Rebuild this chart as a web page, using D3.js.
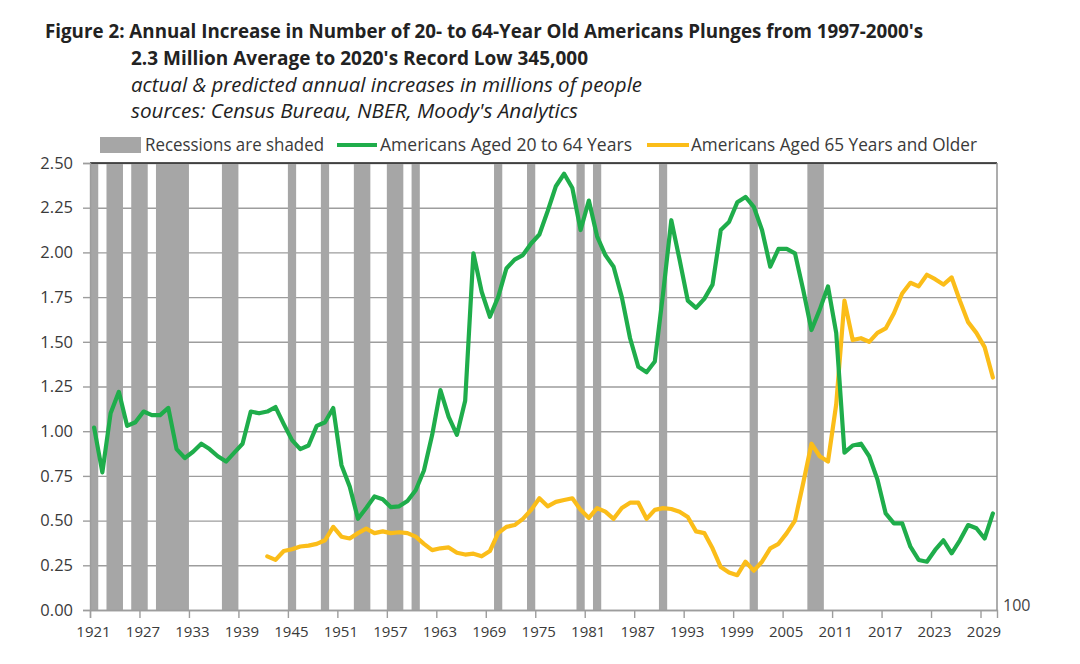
<!DOCTYPE html>
<html>
<head>
<meta charset="utf-8">
<script src="https://cdn.jsdelivr.net/npm/d3@7/dist/d3.min.js"></script>
<style>
  html, body { margin: 0; padding: 0; background: #fff; }
  svg { display: block; }
</style>
</head>
<body>
<svg id="chart" width="1080" height="664"></svg>
<script>
// ---------------- DATA ----------------
const titleLines = [
  "Figure 2: Annual Increase in Number of 20- to 64-Year Old Americans Plunges from 1997-2000's",
  "2.3 Million Average to 2020's  Record Low 345,000"
];
const subtitleLines = [
  "actual & predicted annual increases in millions of people",
  "sources: Census Bureau, NBER, Moody's Analytics"
];
const legendLabels = ["Recessions are shaded", "Americans Aged 20 to 64 Years", "Americans Aged 65 Years and Older"];

// Recession years (shaded)
const recessionYears = [1921, 1923, 1924, 1926, 1927, 1929, 1930, 1931, 1932, 1937, 1938, 1945, 1949,
  1953, 1954, 1957, 1958, 1960, 1970, 1974, 1980, 1982, 1990, 2001, 2008, 2009];

// Americans aged 20 to 64: annual increase (millions), 1921-2030
const years2064 = d3.range(1921, 2031);
const values2064 = [
  1.02, 0.77, 1.10, 1.22, 1.03, 1.05, 1.11, 1.09, 1.09, 1.13,   // 1921-1930
  0.90, 0.85, 0.885, 0.93, 0.90, 0.86, 0.83, 0.88, 0.93, 1.11,  // 1931-1940
  1.10, 1.11, 1.135, 1.04, 0.95, 0.90, 0.92, 1.03, 1.05, 1.13,  // 1941-1950
  0.81, 0.69, 0.51, 0.57, 0.635, 0.62, 0.575, 0.58, 0.61, 0.67, // 1951-1960
  0.78, 0.98, 1.23, 1.08, 0.98, 1.17, 1.995, 1.78, 1.64, 1.75,  // 1961-1970
  1.91, 1.96, 1.985, 2.05, 2.10, 2.23, 2.37, 2.44, 2.36, 2.125, // 1971-1980
  2.29, 2.09, 1.985, 1.92, 1.75, 1.52, 1.36, 1.33, 1.39, 1.77,  // 1981-1990
  2.18, 1.96, 1.73, 1.69, 1.74, 1.82, 2.125, 2.17, 2.28, 2.31,  // 1991-2000
  2.255, 2.125, 1.92, 2.02, 2.02, 1.995, 1.79, 1.566, 1.68, 1.81, // 2001-2010
  1.55, 0.88, 0.92, 0.93, 0.86, 0.73, 0.54, 0.485, 0.485, 0.354, // 2011-2020
  0.28, 0.27, 0.336, 0.39, 0.317, 0.39, 0.475, 0.457, 0.40, 0.54 // 2021-2030
];

// Americans aged 65 and older: annual increase (millions), 1942-2030
const years65 = d3.range(1942, 2031);
const values65 = [
  0.30, 0.28, 0.33, 0.34, 0.355, 0.36, 0.37, 0.39, 0.465,       // 1942-1950
  0.41, 0.40, 0.43, 0.455, 0.43, 0.44, 0.43, 0.435, 0.43, 0.41, // 1951-1960
  0.37, 0.335, 0.345, 0.35, 0.32, 0.31, 0.315, 0.30, 0.33, 0.43, // 1961-1970
  0.465, 0.475, 0.51, 0.56, 0.625, 0.58, 0.605, 0.615, 0.625, 0.56, // 1971-1980
  0.515, 0.57, 0.55, 0.51, 0.57, 0.60, 0.60, 0.51, 0.56, 0.57,  // 1981-1990
  0.565, 0.55, 0.52, 0.44, 0.43, 0.345, 0.24, 0.21, 0.195, 0.27, // 1991-2000
  0.22, 0.27, 0.345, 0.37, 0.43, 0.50, 0.71, 0.93, 0.86, 0.83,  // 2001-2010
  1.15, 1.73, 1.51, 1.52, 1.50, 1.55, 1.575, 1.66, 1.77, 1.83,  // 2011-2020
  1.81, 1.875, 1.85, 1.82, 1.86, 1.73, 1.61, 1.55, 1.47, 1.30   // 2021-2030
];

const xTickYears = [1921, 1927, 1933, 1939, 1945, 1951, 1957, 1963, 1969, 1975, 1981, 1987, 1993, 1999, 2005, 2011, 2017, 2023, 2029];
const yTickValues = [0, 0.25, 0.5, 0.75, 1.0, 1.25, 1.5, 1.75, 2.0, 2.25, 2.5];

// ---------------- LAYOUT ----------------
const COLORS = { green: "#1fad4b", yellow: "#fbbd19", rec: "#a6a6a6", grid: "#9d9d9d", text: "#3a3a3a" };
const svg = d3.select("#chart");
const L = 90, R = 997, T = 163, B = 610;

const x = d3.scaleLinear().domain([1921, 2031]).range([L, R]);
const y = d3.scaleLinear().domain([0, 2.5]).range([B, T]);

// merge consecutive recession years into spans
const recSpans = [];
recessionYears.forEach(yr => {
  const last = recSpans[recSpans.length - 1];
  if (last && last[1] === yr) last[1] = yr + 1; else recSpans.push([yr, yr + 1]);
});

// gridlines
const grid = svg.append("g").attr("transform", `translate(${L},0)`)
  .call(d3.axisLeft(y).tickValues(yTickValues).tickSize(-(R - L)).tickFormat(""));
grid.select(".domain").remove();
grid.selectAll("line").attr("stroke", COLORS.grid).attr("stroke-width", 1.4);

// recession bars
svg.append("g").selectAll("rect").data(recSpans).join("rect")
  .attr("x", d => x(d[0]))
  .attr("width", d => x(d[1]) - x(d[0]))
  .attr("y", y(2.5))
  .attr("height", y(0) - y(2.5))
  .attr("fill", COLORS.rec);

// frame top & right
svg.append("line").attr("x1", L).attr("x2", R).attr("y1", T).attr("y2", T)
  .attr("stroke", "#222").attr("stroke-width", 1.5);
svg.append("line").attr("x1", R).attr("x2", R).attr("y1", T).attr("y2", B)
  .attr("stroke", "#8a8a8a").attr("stroke-width", 1.4);

// y axis
const yAx = svg.append("g").attr("transform", `translate(${L},0)`)
  .call(d3.axisLeft(y).tickValues(yTickValues).tickSize(7).tickPadding(10).tickFormat(d3.format(".2f")));
yAx.select(".domain").attr("stroke", COLORS.grid).attr("stroke-width", 1.4);
yAx.selectAll("line").attr("stroke", COLORS.grid).attr("stroke-width", 1.4);
yAx.selectAll("text").attr("fill", COLORS.text).style("font-family", "'Open Sans', sans-serif").style("font-size", "16.5px");

// x axis
const xAx = svg.append("g").attr("transform", `translate(0,${B})`)
  .call(d3.axisBottom(x).tickValues(xTickYears).tickSize(8).tickPadding(8).tickFormat(d3.format("d")));
xAx.select(".domain").attr("stroke", COLORS.grid).attr("stroke-width", 1.4);
xAx.selectAll("line").attr("stroke", COLORS.grid).attr("stroke-width", 1.4);
xAx.selectAll("text").attr("fill", COLORS.text).attr("dx", 3)
  .style("font-family", "'Open Sans', sans-serif").style("font-size", "15px");

// lines
const line = d3.line().x(d => x(d[0] + 0.5)).y(d => y(d[1]));
svg.append("path").datum(years65.map((yr, i) => [yr, values65[i]]))
  .attr("d", line).attr("fill", "none").attr("stroke", COLORS.yellow)
  .attr("stroke-width", 4.2).attr("stroke-linejoin", "round").attr("stroke-linecap", "round");
svg.append("path").datum(years2064.map((yr, i) => [yr, values2064[i]]))
  .attr("d", line).attr("fill", "none").attr("stroke", COLORS.green)
  .attr("stroke-width", 4.2).attr("stroke-linejoin", "round").attr("stroke-linecap", "round");

// titles
function fitText(sel, len) {
  sel.attr("textLength", len).attr("lengthAdjust", "spacingAndGlyphs");
}
const tfont = "'Open Sans', sans-serif";
fitText(svg.append("text").attr("x", 45).attr("y", 38).text(titleLines[0])
  .attr("fill", "#222").style("font-family", tfont).style("font-weight", "bold").style("font-size", "20px"), 878);
fitText(svg.append("text").attr("x", 131).attr("y", 65).text(titleLines[1])
  .attr("fill", "#222").style("font-family", tfont).style("font-weight", "bold").style("font-size", "20px"), 457);
fitText(svg.append("text").attr("x", 131).attr("y", 92).text(subtitleLines[0])
  .attr("fill", "#222").style("font-family", tfont).style("font-style", "italic").style("font-size", "20px"), 511);
fitText(svg.append("text").attr("x", 131).attr("y", 118).text(subtitleLines[1])
  .attr("fill", "#222").style("font-family", tfont).style("font-style", "italic").style("font-size", "20px"), 447);

// legend
const lg = svg.append("g");
lg.append("rect").attr("x", 100).attr("y", 137).attr("width", 41).attr("height", 16).attr("fill", COLORS.rec);
fitText(lg.append("text").attr("x", 145).attr("y", 151).text(legendLabels[0])
  .attr("fill", COLORS.text).style("font-family", tfont).style("font-size", "17.5px"), 179);
lg.append("line").attr("x1", 337).attr("x2", 377).attr("y1", 145).attr("y2", 145)
  .attr("stroke", COLORS.green).attr("stroke-width", 4);
fitText(lg.append("text").attr("x", 380).attr("y", 151).text(legendLabels[1])
  .attr("fill", COLORS.text).style("font-family", tfont).style("font-size", "17.5px"), 252);
lg.append("line").attr("x1", 647).attr("x2", 689).attr("y1", 145).attr("y2", 145)
  .attr("stroke", COLORS.yellow).attr("stroke-width", 4);
fitText(lg.append("text").attr("x", 691).attr("y", 151).text(legendLabels[2])
  .attr("fill", COLORS.text).style("font-family", tfont).style("font-size", "17.5px"), 286);

// stray label at lower right
svg.append("text").attr("x", 1003).attr("y", 611).text("100")
  .attr("fill", "#444").style("font-family", "'Open Sans', sans-serif").style("font-size", "16px");
</script>
</body>
</html>
